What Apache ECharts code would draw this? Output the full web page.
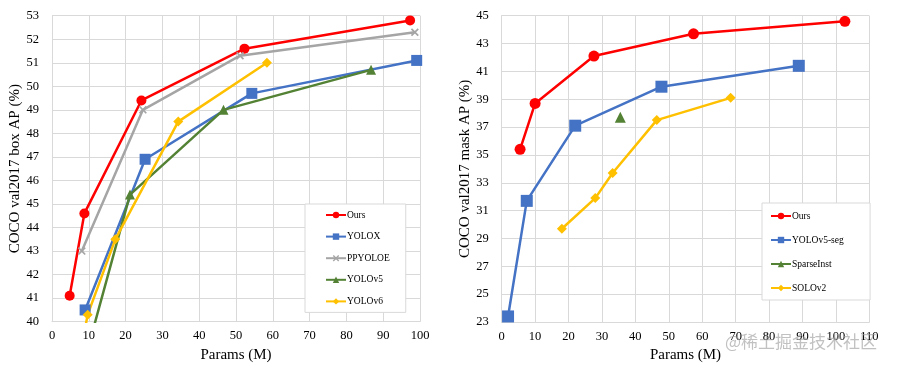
<!DOCTYPE html>
<html><head><meta charset="utf-8">
<script src="https://cdn.jsdelivr.net/npm/echarts@6/dist/echarts.min.js"></script>
<style>html,body{margin:0;padding:0;background:#fff}#c{width:898px;height:368px}</style>
</head><body><div id="c"></div><script>
// Left chart: COCO box AP vs Params
const boxSeriesNames = ['Ours','YOLOX','PPYOLOE','YOLOv5','YOLOv6'];
const oursBox    = [[4.8,41.1],[8.8,44.6],[24.3,49.4],[52.3,51.6],[97.3,52.8]];
const yoloxBox   = [[9.0,40.5],[25.3,46.9],[54.3,49.7],[99.1,51.1]];
const ppyoloeBox = [[8.1,43.0],[24.7,49.0],[51.1,51.3],[98.6,52.3]];
const yolov5Box  = [[7.2,37.4],[21.2,45.4],[46.6,49.0],[86.7,50.7]];
const yolov6Box  = [[4.3,35.9],[9.7,40.3],[17.2,43.5],[34.3,48.5],[58.4,51.0]];
// Right chart: COCO mask AP vs Params
const maskSeriesNames = ['Ours','YOLOv5-seg','SparseInst','SOLOv2'];
const oursMask   = [[5.5,35.4],[10.0,38.7],[27.6,42.1],[57.4,43.7],[102.7,44.6]];
const yolov5Seg  = [[1.9,23.4],[7.5,31.7],[22.0,37.1],[47.8,39.9],[88.9,41.4]];
const sparseInst = [[35.5,37.7]];
const solov2     = [[18.0,29.7],[28.0,31.9],[33.2,33.7],[46.4,37.5],[68.5,39.1]];

const FONT = "'Liberation Serif','Times New Roman',serif";
const RED='#ff0000', BLUE='#4472c4', GRAY='#a5a5a5', GREEN='#548235', YEL='#ffc000';
const CROSS = 'path://M0,1.5L1.5,0L5,3.5L8.5,0L10,1.5L6.5,5L10,8.5L8.5,10L5,6.5L1.5,10L0,8.5L3.5,5Z';

function xAx(gi, max){
  return {gridIndex:gi, type:'value', min:0, max:max, interval:10,
    name:'Params (M)', nameLocation:'middle', nameGap:26,
    nameTextStyle:{fontFamily:FONT, fontSize:15, color:'#000'},
    axisLine:{show:true, lineStyle:{color:'#d9d9d9', width:1}},
    axisTick:{show:false},
    axisLabel:{fontFamily:FONT, fontSize:12.5, color:'#000', margin:8},
    splitLine:{show:true, lineStyle:{color:'#d9d9d9', width:1}}};
}
function yAx(gi, min, max, itv, name){
  return {gridIndex:gi, type:'value', min:min, max:max, interval:itv,
    name:name, nameLocation:'middle', nameGap:26,
    nameTextStyle:{fontFamily:FONT, fontSize:15, color:'#000'},
    axisLine:{show:true, lineStyle:{color:'#d9d9d9', width:1}},
    axisTick:{show:false},
    axisLabel:{fontFamily:FONT, fontSize:12.5, color:'#000', margin:13},
    splitLine:{show:true, lineStyle:{color:'#d9d9d9', width:1}}};
}
function ser(name, data, color, symbol, size, gi){
  return {name:name, type:'line', data:data, xAxisIndex:gi, yAxisIndex:gi,
    symbol:symbol, symbolSize:size, showAllSymbol:true, clip:true,
    lineStyle:{color:color, width:2.5}, itemStyle:{color:color},
    emphasis:{disabled:true}, animation:false, z:3};
}
const legendCommon = {orient:'vertical', backgroundColor:'#fff', borderColor:'#d9d9d9', borderWidth:1,
  itemWidth:20, itemHeight:8, itemGap:12,
  textStyle:{fontFamily:FONT, fontSize:9.5, color:'#000', lineHeight:12, padding:[0,0,0,-4]}};

const chart = echarts.init(document.getElementById('c'));
chart.setOption({
  animation:false,
  grid:[
    {left:52, right:478, top:15.7, bottom:46.3},
    {left:501.7, right:28.7, top:15.7, bottom:45.7}
  ],
  xAxis:[xAx(0,100), xAx(1,110)],
  yAxis:[yAx(0,40,53,1,'COCO val2017 box AP (%)'), yAx(1,23,45,2,'COCO val2017 mask AP (%)')],
  legend:[
    Object.assign({}, legendCommon, {left:305, top:204, padding:[5,16,5,20], itemGap:9.6,
      data:boxSeriesNames.map(n=>({name:n}))}),
    Object.assign({}, legendCommon, {left:762, top:203, padding:[7,24,6,8], itemGap:12,
      data:maskSeriesNames.map(n=>({name:n+' '}))})
  ],
  series:[
    ser(boxSeriesNames[0], oursBox, RED, 'circle', 10, 0),
    ser(boxSeriesNames[1], yoloxBox, BLUE, 'rect', 11, 0),
    ser(boxSeriesNames[2], ppyoloeBox, GRAY, CROSS, 8, 0),
    ser(boxSeriesNames[3], yolov5Box, GREEN, 'triangle', 10, 0),
    ser(boxSeriesNames[4], yolov6Box, YEL, 'diamond', 10, 0),
    ser(maskSeriesNames[0]+' ', oursMask, RED, 'circle', 11, 1),
    ser(maskSeriesNames[1]+' ', yolov5Seg, BLUE, 'rect', 12, 1),
    ser(maskSeriesNames[2]+' ', sparseInst, GREEN, 'triangle', 11, 1),
    ser(maskSeriesNames[3]+' ', solov2, YEL, 'diamond', 10, 1)
  ],
  graphic:[{type:'text', left:725, top:333, z:100,
    style:{text:'@稀土掘金技术社区', fontFamily:"'Noto Sans CJK SC',sans-serif", fontSize:17,
      fill:'rgba(160,160,160,0.65)'}}]
});
</script></body></html>
